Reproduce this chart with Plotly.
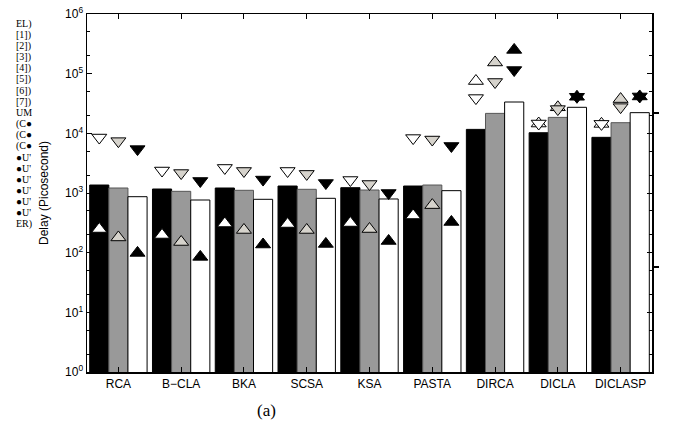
import plotly.graph_objects as go

categories = ["RCA", "B\u2212CLA", "BKA", "SCSA", "KSA", "PASTA", "DIRCA", "DICLA", "DICLASP"]

bar_black = [1360, 1167, 1213, 1309, 1227, 1309, 11650, 10240, 8570]
bar_gray = [1213, 1067, 1110, 1153, 1122, 1360, 21600, 18500, 15080]
bar_white = [867, 763, 784, 815, 794, 1094, 33500, 27300, 22200]

up_white = [249, 198, 308, 302, 314, 420, 75300, 14600, 14400]
up_gray = [180, 151, 240, 240, 249, 627, 154000, 27300, 37500]
up_black = [99, 85, 137, 140, 157, 327, 250000, 41000, 41500]

down_white = [8500, 2380, 2630, 2340, 1650, 8330, 39000, 14600, 14400]
down_gray = [7400, 2160, 2340, 2090, 1415, 7870, 72500, 25500, 27500]
down_black = [5440, 1590, 1680, 1470, 1000, 6140, 115000, 41000, 41500]

ytick_vals = [1, 10, 100, 1000, 10000, 100000, 1000000]
ytick_text = ["10<sup>%d</sup>" % i for i in range(7)]

side_labels = ["EL)", "[1])", "[2])", "[3])", "[4])", "[5])", "[6])", "[7])", "UM",
               "(C\u25cf", "(C\u25cf", "(C\u25cf",
               "\u25cfU'", "\u25cfU'", "\u25cfU'", "\u25cfU'", "\u25cfU'", "\u25cfU'", "ER)"]

fig = go.Figure()

bar_specs = [
    ("a", bar_black, "#000000", "#000000"),
    ("b", bar_gray, "#999999", "#555555"),
    ("c", bar_white, "#ffffff", "#000000"),
]
for grp, vals, fill, edge in bar_specs:
    fig.add_trace(go.Bar(x=categories, y=vals, offsetgroup=grp,
                         marker=dict(color=fill, line=dict(color=edge, width=1)),
                         showlegend=False, hoverinfo="skip"))

marker_fill = {"a": "#ffffff", "b": "#d6d3cc", "c": "#000000"}
for grp, vals in (("a", up_white), ("b", up_gray), ("c", up_black)):
    fig.add_trace(go.Scatter(x=categories, y=vals, mode="markers", offsetgroup=grp,
                             marker=dict(symbol="triangle-up", size=13, color=marker_fill[grp],
                                         line=dict(color="#000000", width=1)),
                             showlegend=False, hoverinfo="skip"))
for grp, vals in (("a", down_white), ("b", down_gray), ("c", down_black)):
    fig.add_trace(go.Scatter(x=categories, y=vals, mode="markers", offsetgroup=grp,
                             marker=dict(symbol="triangle-down", size=13, color=marker_fill[grp],
                                         line=dict(color="#000000", width=1)),
                             showlegend=False, hoverinfo="skip"))

# plot area spans x 87..652, y 14..372 in the window (body margin removed below)
W, H = 673, 430
PL, PT, PW, PH = 87, 14, 565, 358

def px(xw):
    return (xw - PL) / PW

def py(yw):
    return (PT + PH - yw) / PH

annotations = []
for i, t in enumerate(side_labels):
    ypix = 24 + i * 11.1
    annotations.append(dict(text=t, xref="paper", yref="paper",
                            x=px(14), y=py(ypix),
                            xanchor="left", yanchor="middle", showarrow=False,
                            font=dict(family="Liberation Serif", size=10, color="#000000")))
annotations.append(dict(text="(a)", xref="paper", yref="paper",
                        x=px(266), y=py(410),
                        xanchor="center", yanchor="middle", showarrow=False,
                        font=dict(family="Liberation Serif", size=17, color="#000000")))

shapes = []
for ypix in (113, 267):
    shapes.append(dict(type="line", xref="paper", yref="paper",
                       x0=1.0, x1=1.0 + 7 / PW, y0=py(ypix), y1=py(ypix),
                       line=dict(color="#000000", width=2)))

fig.update_layout(
    width=W, height=H,
    margin=dict(l=PL, r=W - PL - PW, t=PT, b=H - PT - PH, autoexpand=False),
    paper_bgcolor="#ffffff", plot_bgcolor="#ffffff",
    barmode="group", bargap=0.086, bargroupgap=0,
    scattermode="group", scattergap=0.086,
    showlegend=False, hovermode=False,
    annotations=annotations,
    shapes=shapes,
    font=dict(family="Liberation Sans, Arial, sans-serif", color="#000000"),
)
fig.update_xaxes(type="category", showline=True, linecolor="#000000", linewidth=1.5,
                 mirror="ticks", ticks="inside", ticklen=5, tickcolor="#000000",
                 tickfont=dict(size=12, family="Liberation Sans"), showgrid=False,
                 automargin=False)
fig.update_yaxes(type="log", range=[0, 6], tickvals=ytick_vals, ticktext=ytick_text,
                 showline=True, linecolor="#000000", linewidth=1.5, mirror="ticks",
                 ticks="inside", ticklen=5, tickcolor="#000000",
                 minor=dict(ticks="inside", ticklen=3, tickcolor="#000000", showgrid=False),
                 tickfont=dict(size=12, family="Liberation Sans"), showgrid=False, zeroline=False,
                 automargin=False, ticklabeloverflow="allow",
                 title=dict(text="Delay (Picosecond)", font=dict(size=12, family="Liberation Sans"),
                            standoff=14))

fig.write_html("out.html", config={"displayModeBar": False, "staticPlot": True},
               post_script="document.body.style.margin='0';document.body.style.overflow='hidden';")
